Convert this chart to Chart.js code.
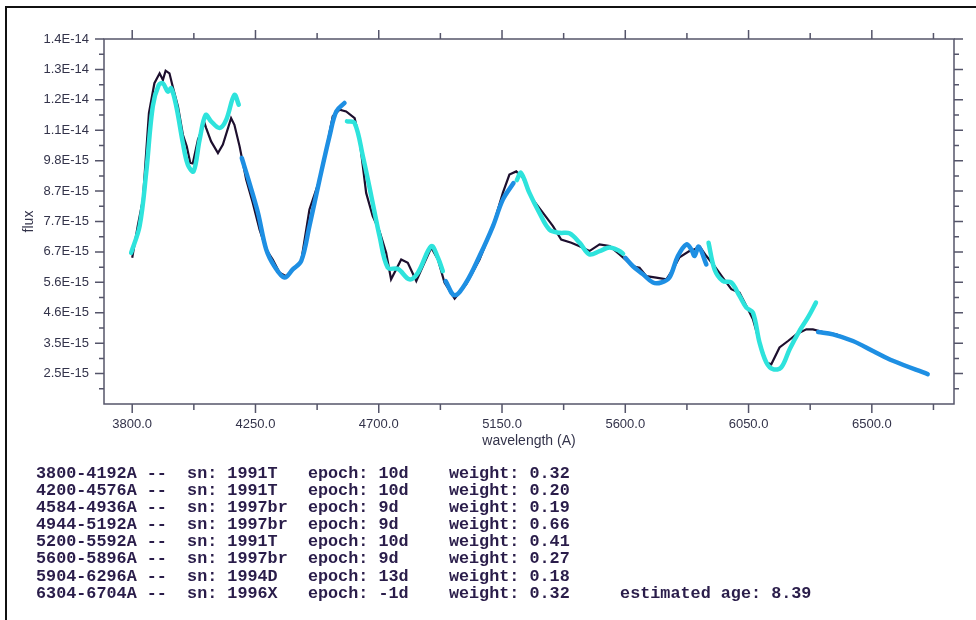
<!DOCTYPE html>
<html>
<head>
<meta charset="utf-8">
<script src="https://cdn.jsdelivr.net/npm/chart.js@4.4.1/dist/chart.umd.min.js"></script>
<style>
  body { margin: 0; background: #fff; }
  #wrap { position: relative; width: 976px; height: 620px; overflow: hidden; background: #fff; }
  #frame { position: absolute; left: 5px; top: 6px; right: -10px; bottom: -10px;
           border-top: 2px solid #111; border-left: 2px solid #111; }
  #notes { position: absolute; left: 36px; top: 465px; margin: 0;
           font: bold 16.8px "Liberation Mono", monospace; line-height: 17.1px;
           color: #2a1d4a; white-space: pre; }
</style>
</head>
<body>
<div id="wrap">
  <canvas id="chart1" width="976" height="620"></canvas>
  <div id="frame"></div>
  <pre id="notes"></pre>
</div>
<script>
// flux values are in units of 1E-15
const obsWave = [3800,3820,3839,3861,3881,3900,3912,3922,3936,3948,3967,3985,3999,4012,4021,4040,4064,4070,4088,4113,
  4131,4161,4173,4192,4216,4240,4265,4289,4313,4338,4362,4386,4417,4447,4484,4508,4532,4557,4581,4612,
  4630,4654,4678,4703,4727,4745,4782,4806,4837,4861,4892,4916,4940,4977,5019,5068,5117,5153,5177,5202,
  5226,5263,5299,5336,5366,5403,5433,5469,5506,5543,5579,5628,5652,5677,5713,5750,5774,5798,5834,5853,
  5871,5896,5926,5956,5987,6017,6042,6066,6090,6115,6133,6163,6194,6224,6261,6285,6321,6370,6431,6504,
  6577,6638,6705];
const obsFlux = [6.48,7.57,8.48,11.45,12.48,12.82,12.59,12.91,12.82,12.36,11.68,10.71,10.31,9.74,9.72,10.54,11.11,10.94,10.48,10.08,
  10.37,11.28,11.05,10.31,9.17,8.37,7.45,6.77,6.42,5.97,5.85,6.08,6.37,8.14,9.17,10.19,11.34,11.57,11.51,11.28,
  10.54,8.71,7.91,7.39,6.65,5.74,6.42,6.31,5.68,6.19,6.83,6.42,5.63,5.08,5.57,6.42,7.57,8.71,9.34,9.45,
  9.23,8.48,8.03,7.57,7.11,7.00,6.88,6.71,6.94,6.88,6.60,6.19,6.14,5.85,5.80,5.74,6.08,6.50,6.71,6.77,
  6.88,6.54,6.19,5.80,5.40,5.28,4.82,4.37,3.57,2.88,2.82,3.40,3.62,3.85,4.02,4.02,3.93,3.85,3.62,3.28,
  2.94,2.71,2.48];

// template fits, segments separated by null
const cyanWave = [3796,3827,3851,3875,3897,3912,3930,3942,3961,3985,4003,4024,4046,4068,4088,4119,4143,4173,4189, null,
  4584,4612,4642,4673,4703,4733,4770,4812,4843,4892,4916,4934, null,
  5204,5219,5250,5286,5323,5360,5396,5433,5469,5506,5543,5579,5592, null,
  5904,5926,5956,5987,6017,6042,6066,6090,6115,6139,6169,6200,6236,6267,6296];
const cyanFlux = [6.65,7.57,9.40,11.68,12.42,12.48,12.19,12.31,11.68,10.42,9.68,9.45,10.54,11.39,11.17,10.94,11.22,12.08,11.74, null,
  11.17,11.11,9.97,8.59,7.22,6.14,6.10,5.74,5.97,6.88,6.48,6.02, null,
  9.15,9.40,8.71,8.03,7.45,7.34,7.32,7.00,6.60,6.71,6.83,6.71,6.62, null,
  7.00,6.08,5.68,5.63,5.17,4.77,4.60,3.57,2.88,2.65,2.71,3.34,3.97,4.43,4.94];

const blueWave = [4200,4228,4259,4289,4319,4356,4386,4417,4447,4484,4520,4545,4575, null,
  4944,4977,5019,5068,5117,5153,5192, null,
  5600,5628,5665,5701,5731,5761,5792,5823,5841,5853,5868,5896, null,
  6304,6358,6431,6504,6577,6704];
const blueFlux = [9.91,9.05,8.03,6.77,6.19,5.80,6.08,6.37,7.57,9.17,10.65,11.51,11.80, null,
  5.68,5.19,5.63,6.54,7.57,8.48,9.05, null,
  6.48,6.19,5.91,5.63,5.63,5.80,6.54,6.94,6.77,6.54,6.86,6.25, null,
  3.93,3.85,3.62,3.28,2.94,2.48];

const xTickLabels = ['3800.0','4250.0','4700.0','5150.0','5600.0','6050.0','6500.0'];
const yTickLabels = ['1.4E-14','1.3E-14','1.2E-14','1.1E-14','9.8E-15','8.7E-15','7.7E-15','6.7E-15','5.6E-15','4.6E-15','3.5E-15','2.5E-15'];

const ranges  = ['3800-4192A','4200-4576A','4584-4936A','4944-5192A','5200-5592A','5600-5896A','5904-6296A','6304-6704A'];
const sns     = ['1991T','1991T','1997br','1997br','1991T','1997br','1994D','1996X'];
const epochs  = ['10d','10d','9d','9d','10d','9d','13d','-1d'];
const weights = ['0.32','0.20','0.19','0.66','0.41','0.27','0.18','0.32'];
const estimatedAge = '8.39';

const xMin = 3697, xMax = 6800;
const yMax = 14, yMin = 1.455;
const yStep = (yMax - yMin) / 12;

let notes = ranges.map((r, i) =>
  r + ' --  sn: ' + sns[i].padEnd(8) + 'epoch: ' + epochs[i].padEnd(7) + 'weight: ' + weights[i]);
notes[notes.length - 1] += '     estimated age: ' + estimatedAge;
document.getElementById('notes').textContent = notes.join('\n');

segments = (wave, flux) => {
  let out = [], cur = [];
  wave.forEach((w, i) => {
    if (w === null) { out.push(cur); cur = []; }
    else cur.push({x: w, y: flux[i]});
  });
  out.push(cur);
  return out;
};

let datasets = [{
  data: obsWave.map((w, i) => ({x: w, y: obsFlux[i]})),
  borderColor: '#1d0f2e', borderWidth: 2.2, tension: 0, order: 3
}];
segments(cyanWave, cyanFlux).forEach(s => datasets.push({
  data: s, borderColor: '#2ee3dc', borderWidth: 4.5, tension: 0.35, order: 1, borderCapStyle: 'round'
}));
segments(blueWave, blueFlux).forEach(s => datasets.push({
  data: s, borderColor: '#1e8fe3', borderWidth: 4.5, tension: 0.35, order: 2, borderCapStyle: 'round'
}));

const frameTicks = {
  id: 'frameTicks',
  afterDatasetsDraw(chart) {
    const {ctx, chartArea: a, scales: {x, y}} = chart;
    ctx.save();
    ctx.strokeStyle = '#55556a';
    ctx.lineWidth = 1.5;
    ctx.strokeRect(a.left, a.top, a.right - a.left, a.bottom - a.top);
    ctx.beginPath();
    xTickLabels.forEach(t => {
      const v = parseFloat(t);
      [v, v + 225].forEach((val, k) => {
        if (val > xMax) return;
        const px = x.getPixelForValue(val), len = k ? 6 : 9;
        ctx.moveTo(px, a.bottom); ctx.lineTo(px, a.bottom + len);
        ctx.moveTo(px, a.top); ctx.lineTo(px, a.top - len);
      });
    });
    yTickLabels.forEach((t, i) => {
      const v = yMax - i * yStep;
      [v, v - yStep / 2].forEach((val, k) => {
        const py = y.getPixelForValue(val), len = k ? 5 : 9;
        ctx.moveTo(a.left, py); ctx.lineTo(a.left - len, py);
        ctx.moveTo(a.right, py); ctx.lineTo(a.right + len, py);
      });
    });
    ctx.stroke();
    ctx.restore();
  }
};

const tickFont = {family: '"Liberation Sans", Arial, sans-serif', size: 13};

chart = new Chart(document.getElementById('chart1'), {
  type: 'line',
  data: {datasets: datasets},
  options: {
    responsive: false,
    animation: false,
    layout: {padding: {left: 18, top: 39, right: 22, bottom: 160}},
    elements: {point: {radius: 0}},
    plugins: {legend: {display: false}, tooltip: {enabled: false}},
    scales: {
      x: {
        type: 'linear', min: xMin, max: xMax,
        grid: {display: false}, border: {display: false},
        afterBuildTicks: s => { s.ticks = xTickLabels.map(t => ({value: parseFloat(t)})); },
        afterFit: s => { s.height = 56; },
        ticks: {padding: 5, color: '#33334a', font: tickFont, maxRotation: 0,
                callback: (v, i) => xTickLabels[i]},
        title: {display: true, text: 'wavelength (A)', color: '#33334a',
                font: {family: '"Liberation Sans", Arial, sans-serif', size: 14}, padding: {bottom: 10}}
      },
      y: {
        type: 'linear', min: yMin, max: yMax,
        grid: {display: false}, border: {display: false},
        afterBuildTicks: s => { s.ticks = yTickLabels.map((_, i) => ({value: yMax - i * yStep})); },
        afterFit: s => { s.width = 86; },
        ticks: {padding: 7, color: '#33334a', font: tickFont,
                callback: (v, i) => yTickLabels[i]},
        title: {display: true, text: 'flux', color: '#33334a',
                font: {family: '"Liberation Sans", Arial, sans-serif', size: 14}, padding: {top: 3}}
      }
    }
  },
  plugins: [frameTicks]
});
</script>
</body>
</html>
